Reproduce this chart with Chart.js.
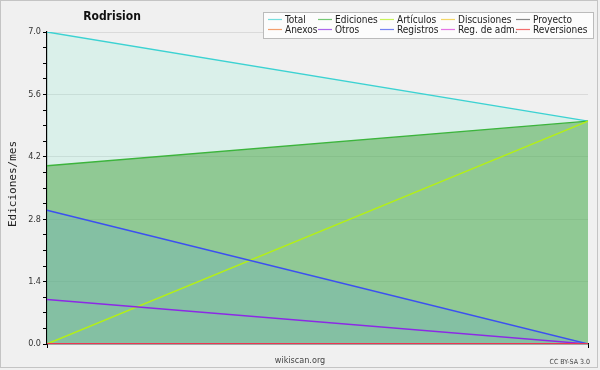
<!DOCTYPE html>
<html>
<head>
<meta charset="utf-8">
<script src="https://cdn.jsdelivr.net/npm/chart.js@4/dist/chart.umd.min.js"></script>
<style>
  html, body { margin: 0; padding: 0; background: #f0f0f0; }
  #wrap { position: relative; width: 600px; height: 370px; }
</style>
</head>
<body>
<div id="wrap"><canvas id="c" width="600" height="370"></canvas></div>
<script>
// ---- data ----
const categories = ['', ''];
const seriesNames = ['Total', 'Ediciones', 'Artículos', 'Discusiones', 'Proyecto',
                     'Anexos', 'Otros', 'Registros', 'Reg. de adm.', 'Reversiones'];
const total       = [7, 5];
const ediciones   = [4, 5];
const articulos   = [0, 5];
const discusiones = [0, 0];
const proyecto    = [0, 0];
const anexos      = [0, 0];
const otros       = [1, 0];
const registros   = [3, 0];
const regAdm      = [0, 0];
const reversiones = [0, 0];
const yMax = 7;
const yStep = 0.35;
const chartTitle = 'Rodrision';
const yTitle = 'Ediciones/mes';
const footerLeft = 'wikiscan.org';
const footerRight = 'CC BY-SA 3.0';

// ---- styles ----
const lineColors = ['#3cd2d2', '#3cb43c', '#b4f014', '#f0c828', '#555555',
                    '#f07830', '#8c28e6', '#3c50f0', '#dc3cdc', '#f03232'];
const fills = {
  0: 'rgba(130,240,210,0.2)',
  1: 'rgba(70,162,62,0.5)',
  7: 'rgba(107,171,198,0.3)'
};
const seriesData = [total, ediciones, articulos, discusiones, proyecto,
                    anexos, otros, registros, regAdm, reversiones];

const datasets = seriesNames.map((name, i) => ({
  label: name,
  data: seriesData[i],
  borderColor: lineColors[i],
  backgroundColor: fills[i] || 'rgba(0,0,0,0)',
  fill: fills[i] ? 'origin' : false,
  borderWidth: 1.4,
  pointRadius: 0,
  tension: 0,
  order: 20 - i
}));

const decor = {
  id: 'decor',
  beforeDraw(chart) {
    const ctx = chart.ctx;
    ctx.save();
    ctx.fillStyle = '#f0f0f0';
    ctx.fillRect(0, 0, 600, 370);
    ctx.strokeStyle = '#c4c4c4';
    ctx.lineWidth = 1;
    ctx.strokeRect(0.5, 0.5, 597, 367);
    ctx.restore();
  },
  afterDraw(chart) {
    const ctx = chart.ctx;
    ctx.save();
    // title
    ctx.fillStyle = '#111';
    ctx.font = 'bold 12px "DejaVu Sans Condensed", "DejaVu Sans"';
    ctx.textAlign = 'center';
    ctx.textBaseline = 'middle';
    ctx.fillText(chartTitle, 112, 17);
    // y title
    ctx.save();
    ctx.translate(13, 184);
    ctx.rotate(-Math.PI / 2);
    ctx.font = '11px "DejaVu Sans Mono"';
    ctx.fillStyle = '#222';
    ctx.fillText(yTitle, 0, 0);
    ctx.restore();
    // footer
    ctx.font = '9px "DejaVu Sans Condensed", "DejaVu Sans"';
    ctx.fillStyle = '#444';
    ctx.textAlign = 'center';
    ctx.fillText(footerLeft, 300, 361);
    ctx.font = '7px "DejaVu Sans Condensed", "DejaVu Sans"';
    ctx.textAlign = 'right';
    ctx.fillText(footerRight, 590, 362);
    // legend
    ctx.fillStyle = '#fcfcfc';
    ctx.fillRect(263, 12, 330, 26);
    ctx.strokeStyle = '#bbbbbb';
    ctx.strokeRect(263.5, 12.5, 330, 26);
    const colX = [268, 318, 380, 441, 516];
    const rowY = [19, 29];
    ctx.font = '10px "DejaVu Sans Condensed", "DejaVu Sans"';
    ctx.textAlign = 'left';
    chart.data.datasets.forEach((ds, i) => {
      const col = i % 5, row = Math.floor(i / 5);
      const x = colX[col], y = rowY[row];
      ctx.strokeStyle = ds.borderColor;
      ctx.globalAlpha = 0.7;
      ctx.lineWidth = 1.2;
      ctx.beginPath();
      ctx.moveTo(x, y + 0.5);
      ctx.lineTo(x + 14, y + 0.5);
      ctx.stroke();
      ctx.globalAlpha = 1;
      ctx.fillStyle = '#222';
      ctx.fillText(ds.label, x + 17, y + 1);
    });
    ctx.restore();
  }
};

new Chart(document.getElementById('c'), {
  type: 'line',
  data: { labels: categories, datasets },
  plugins: [decor],
  options: {
    responsive: false,
    animation: false,
    devicePixelRatio: 1,
    layout: { padding: { left: 0, top: 32, right: 12, bottom: 0 } },
    plugins: {
      legend: { display: false },
      title: { display: false },
      tooltip: { enabled: false },
      filler: { drawTime: 'beforeDatasetsDraw' }
    },
    scales: {
      x: {
        offset: false,
        z: 1,
        afterFit(s) { s.height = 26; },
        grid: { drawOnChartArea: false, tickLength: 4, tickColor: '#000', color: '#000' },
        border: { color: '#000', width: 1.2 },
        ticks: { display: true, font: { size: 1 }, padding: 0 }
      },
      y: {
        min: 0, max: yMax,
        z: 1,
        afterFit(s) { s.width = 47; },
        afterBuildTicks(s) {
          const t = [];
          for (let k = 0; k <= Math.round(yMax / yStep); k++) t.push({ value: +(k * yStep).toFixed(2) });
          s.ticks = t;
        },
        grid: {
          tickLength: 4,
          tickColor: '#000',
          color(c) {
            const k = Math.round(c.tick.value / yStep);
            return (k % 4 === 0) ? 'rgba(0,0,0,0.09)' : 'rgba(0,0,0,0)';
          }
        },
        border: { color: '#000', width: 1.2 },
        ticks: {
          padding: 2,
          color: '#333',
          font: { family: '"DejaVu Sans Condensed", "DejaVu Sans"', size: 9 },
          callback(v) {
            const k = Math.round(v / yStep);
            return (k % 4 === 0) ? (k * yStep).toFixed(1) : '';
          }
        }
      }
    }
  }
});
</script>
</body>
</html>
